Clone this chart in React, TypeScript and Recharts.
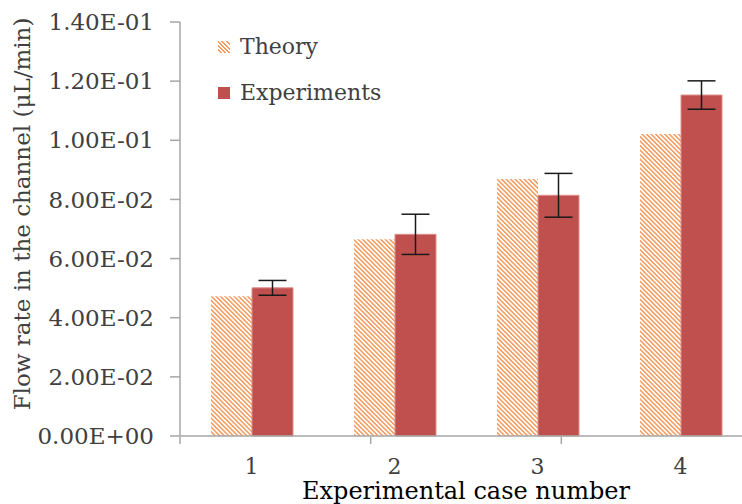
import React from 'react';
import { BarChart, Bar, XAxis, YAxis, ErrorBar } from 'recharts';

const categories = ['1', '2', '3', '4'];
const theory = [0.0473, 0.0665, 0.0869, 0.1021];
const experiments = [0.0501, 0.0682, 0.0814, 0.1153];
const expError = [0.0025, 0.0068, 0.0074, 0.0048];
const yTicks = [0, 0.02, 0.04, 0.06, 0.08, 0.1, 0.12, 0.14];
const caseBounds = [0, 1, 2, 3, 4];

const data = categories.map((c, i) => ({
  name: c,
  theory: theory[i],
  experiments: experiments[i],
  err: expError[i],
}));

const FONT = 'DejaVu Serif';
const TEXT = '#404040';
const AXIS = '#a6a6a6';
const RED = '#c0504d';
const ORANGE = '#f59a5c';

// Excel style scientific notation, e.g. 1.40E-01
const sci = (v: number): string => {
  if (v === 0) return '0.00E+00';
  const e = Math.floor(Math.log10(Math.abs(v)) + 1e-9);
  const m = v / Math.pow(10, e);
  return `${m.toFixed(2)}E${e < 0 ? '-' : '+'}${String(Math.abs(e)).padStart(2, '0')}`;
};

const ChartLegend = () => (
  <div style={{ position: 'absolute', left: 218, top: 30, fontFamily: FONT, fontSize: 22, color: TEXT, lineHeight: '34px' }}>
    <div style={{ display: 'flex', alignItems: 'center', height: 34 }}>
      <span
        style={{
          width: 12,
          height: 12,
          marginRight: 10,
          background: `repeating-linear-gradient(45deg, #fff 0px, #fff 1.5px, ${ORANGE} 1.5px, ${ORANGE} 3px)`,
        }}
      />
      Theory
    </div>
    <div style={{ display: 'flex', alignItems: 'center', height: 34, marginTop: 12 }}>
      <span style={{ width: 12, height: 12, marginRight: 10, background: RED }} />
      Experiments
    </div>
  </div>
);

const YLabel = (props: any) => {
  const vb = props.viewBox || { x: 0, y: 22, width: 180, height: 414 };
  const cx = vb.x + 22;
  const cy = vb.y + vb.height / 2 - 15;
  return (
    <text
      x={cx}
      y={cy}
      transform={`rotate(-90, ${cx}, ${cy})`}
      textAnchor="middle"
      dominantBaseline="central"
      fontFamily={FONT}
      fontSize={23}
      fill={TEXT}
    >
      Flow rate in the channel (μL/min)
    </text>
  );
};

export default function App() {
  return (
    <div style={{ position: 'absolute', left: 0, top: 0, width: 742, height: 504, overflow: 'hidden', background: '#fff' }}>
      <BarChart
        width={760}
        height={504}
        data={data}
        margin={{ top: 22, right: 8, left: 0, bottom: 0 }}
        barSize={41}
        barGap={0}
      >
        <defs>
          <pattern id="hatch" width="3.2" height="3.2" patternUnits="userSpaceOnUse" patternTransform="rotate(-45)">
            <rect width="3.2" height="3.2" fill="#fff" />
            <line x1="0.8" y1="0" x2="0.8" y2="3.2" stroke={ORANGE} strokeWidth="1.5" />
          </pattern>
        </defs>
        <XAxis
          dataKey="name"
          axisLine={{ stroke: AXIS, strokeWidth: 1.5 }}
          tickLine={false}
          tickSize={0}
          tickMargin={22}
          height={1}
          tick={{ fontFamily: FONT, fontSize: 22, fill: TEXT }}
        />
        <XAxis
          xAxisId="bounds"
          type="number"
          domain={[0, 4]}
          ticks={caseBounds}
          tickFormatter={() => ''}
          axisLine={false}
          tickLine={{ stroke: AXIS, strokeWidth: 1.5 }}
          tickSize={7}
          height={67}
          label={{
            value: 'Experimental case number',
            position: 'insideBottom',
            offset: 5,
            style: { fontFamily: FONT, fontSize: 24, fill: '#000' },
          }}
        />
        <YAxis
          width={180}
          domain={[0, 0.14]}
          ticks={yTicks}
          tickFormatter={sci}
          interval={0}
          axisLine={{ stroke: AXIS, strokeWidth: 1.5 }}
          tickLine={{ stroke: AXIS, strokeWidth: 1.5 }}
          tickSize={10}
          tickMargin={16}
          tick={{ fontFamily: FONT, fontSize: 23, fill: TEXT }}
          label={<YLabel />}
        />
        <Bar dataKey="theory" name="Theory" fill="url(#hatch)" isAnimationActive={false} />
        <Bar
          dataKey="experiments"
          name="Experiments"
          fill={RED}
          stroke="#dc8f8d"
          strokeWidth={1}
          isAnimationActive={false}
        >
          <ErrorBar dataKey="err" width={14} stroke="#1a1a1a" strokeWidth={1.5} direction="y" />
        </Bar>
      </BarChart>
      <ChartLegend />
    </div>
  );
}
